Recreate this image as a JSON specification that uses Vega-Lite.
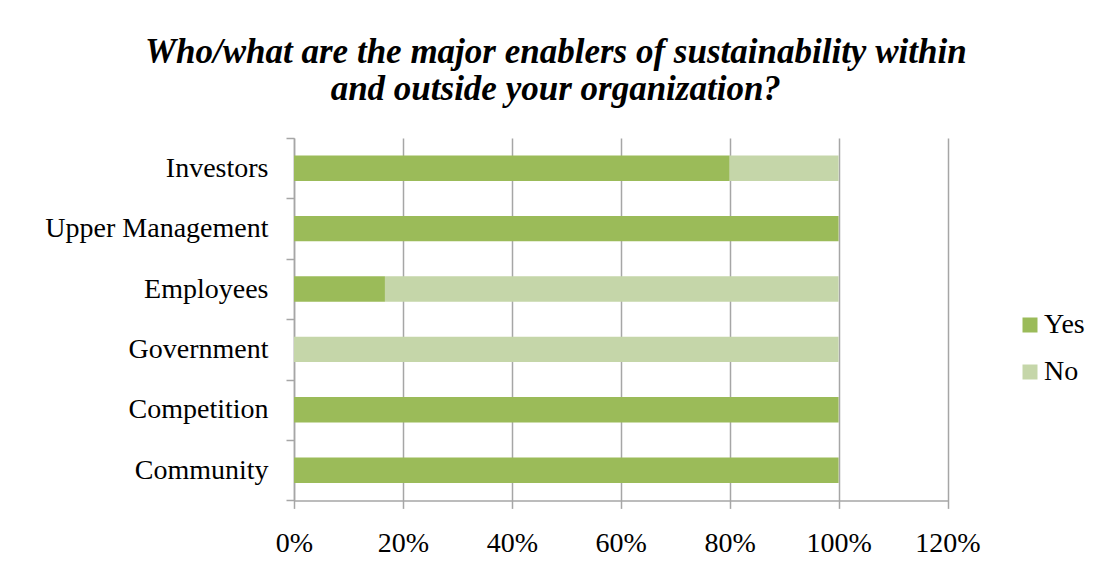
{
  "$schema": "https://vega.github.io/schema/vega-lite/v6.json",
  "width": 653.5,
  "height": 362.4,
  "autosize": {"type": "none"},
  "padding": {"left": 294, "top": 138, "right": 147.5, "bottom": 83.6},
  "background": "white",
  "title": {
    "text": ["Who/what are the major enablers of sustainability within", "and outside your organization?"],
    "font": "Liberation Serif",
    "fontSize": 35,
    "fontWeight": "bold",
    "fontStyle": "italic",
    "color": "#000000",
    "anchor": "middle",
    "frame": "group",
    "dx": -65,
    "offset": 17,
    "lineHeight": 37
  },
  "data": {
    "values": [
      {"enabler": "Investors", "answer": "Yes", "share": 0.80, "ord": 1},
      {"enabler": "Investors", "answer": "No", "share": 0.20, "ord": 2},
      {"enabler": "Upper Management", "answer": "Yes", "share": 1.00, "ord": 1},
      {"enabler": "Upper Management", "answer": "No", "share": 0.00, "ord": 2},
      {"enabler": "Employees", "answer": "Yes", "share": 0.167, "ord": 1},
      {"enabler": "Employees", "answer": "No", "share": 0.833, "ord": 2},
      {"enabler": "Government", "answer": "Yes", "share": 0.00, "ord": 1},
      {"enabler": "Government", "answer": "No", "share": 1.00, "ord": 2},
      {"enabler": "Competition", "answer": "Yes", "share": 1.00, "ord": 1},
      {"enabler": "Competition", "answer": "No", "share": 0.00, "ord": 2},
      {"enabler": "Community", "answer": "Yes", "share": 1.00, "ord": 1},
      {"enabler": "Community", "answer": "No", "share": 0.00, "ord": 2}
    ]
  },
  "mark": {"type": "bar", "height": {"band": 0.42}},
  "encoding": {
    "y": {
      "field": "enabler",
      "type": "nominal",
      "sort": ["Investors", "Upper Management", "Employees", "Government", "Competition", "Community"],
      "scale": {"paddingInner": 0, "paddingOuter": 0},
      "axis": {
        "title": null,
        "domainColor": "#A6A6A6",
        "domainWidth": 1.5,
        "tickColor": "#A6A6A6",
        "tickWidth": 1.5,
        "tickSize": 8,
        "tickBand": "extent",
        "labelFont": "Liberation Serif",
        "labelFontSize": 28,
        "labelColor": "#000000",
        "labelPadding": 18,
        "labelLimit": 0,
        "grid": false
      }
    },
    "x": {
      "field": "share",
      "type": "quantitative",
      "stack": "zero",
      "scale": {"domain": [0, 1.2], "nice": false},
      "axis": {
        "title": null,
        "format": ".0%",
        "values": [0, 0.2, 0.4, 0.6, 0.8, 1.0, 1.2],
        "grid": true,
        "gridColor": "#A6A6A6",
        "gridWidth": 1.5,
        "domainColor": "#A6A6A6",
        "domainWidth": 1.5,
        "tickColor": "#A6A6A6",
        "tickWidth": 1.5,
        "tickSize": 8,
        "labelFont": "Liberation Serif",
        "labelFontSize": 28,
        "labelColor": "#000000",
        "labelPadding": 21,
        "labelFlush": false
      }
    },
    "color": {
      "field": "answer",
      "type": "nominal",
      "scale": {"domain": ["Yes", "No"], "range": ["#9BBB59", "#C5D6A9"]},
      "legend": {
        "title": null,
        "orient": "none",
        "legendX": 722,
        "legendY": 173,
        "padding": 0,
        "symbolType": "square",
        "symbolSize": 225,
        "symbolStrokeWidth": 0,
        "labelFont": "Liberation Serif",
        "labelFontSize": 28,
        "labelColor": "#000000",
        "labelOffset": 0,
        "rowPadding": 19
      }
    },
    "order": {"field": "ord", "type": "quantitative"}
  },
  "config": {
    "view": {"stroke": null}
  }
}
